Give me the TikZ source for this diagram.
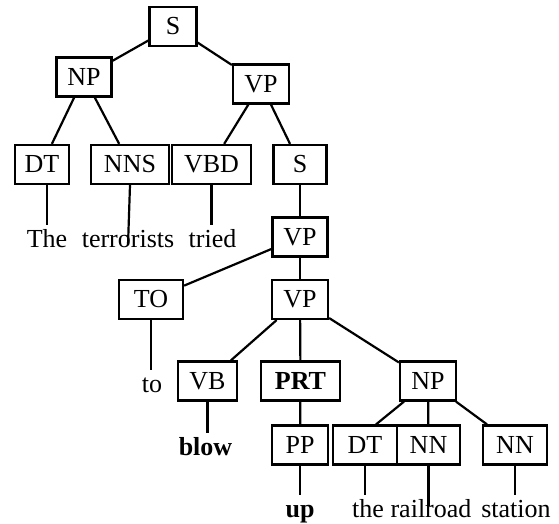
\documentclass[tikz,border=0pt]{standalone}
\usepackage{fontspec}
\setmainfont{Liberation Serif}
\begin{document}
\begin{tikzpicture}[x=1pt,y=-1pt,
  cat/.style={draw, line width=2.2pt, minimum height=39pt, inner sep=0pt, font=\fontsize{26}{30}\selectfont},
  word/.style={anchor=base, inner xsep=0pt, inner ysep=4pt, text height=18pt, font=\fontsize{26}{30}\selectfont},
  edge/.style={line width=2.2pt}]
\useasboundingbox (0,0) rectangle (559,524);
% category nodes
\node[cat, minimum width=47pt] (s0) at (173,26.5) {S};
\node[cat, minimum width=55pt] (np1) at (84,77) {NP};
\node[cat, minimum width=56pt] (vp1) at (261,84) {VP};
\node[cat, minimum width=54pt] (dt1) at (42,164.5) {DT};
\node[cat, minimum width=78pt] (nns) at (130,164.5) {NNS};
\node[cat, minimum width=79pt] (vbd) at (211.5,164.5) {VBD};
\node[cat, minimum width=53pt] (s1) at (300,164.5) {S};
\node[cat, minimum width=55pt] (vp2) at (300,237) {VP};
\node[cat, minimum width=64pt] (to) at (151,299.5) {TO};
\node[cat, minimum width=56pt] (vp3) at (300,299.5) {VP};
\node[cat, minimum width=59pt] (vb) at (207.5,381) {VB};
\node[cat, minimum width=79pt] (prt) at (300.5,381) {\textbf{PRT}};
\node[cat, minimum width=56pt] (np2) at (428,381) {NP};
\node[cat, minimum width=56pt] (pp) at (300,445) {PP};
\node[cat, minimum width=64pt] (dt2) at (365,445) {DT};
\node[cat, minimum width=63pt] (nn1) at (428.5,445) {NN};
\node[cat, minimum width=64pt] (nn2) at (515,445) {NN};
% words
\node[word] (w1) at (47,247) {The};
\node[word] (w2) at (128,247) {terrorists};
\node[word] (w3) at (212.5,247) {tried};
\node[word] (w4) at (152,392) {to};
\node[word] (w5) at (205.5,455) {\textbf{blow}};
\node[word] (w6) at (300,517) {\textbf{up}};
\node[word] (w7) at (368,517) {the};
\node[word] (w8) at (431,517) {railroad};
\node[word] (w9) at (516,517) {station};
\coordinate (t2) at (128,245);
\coordinate (t8) at (428.5,506);
% edges
\draw[edge] (s0) -- (np1);
\draw[edge] (s0) -- (vp1);
\draw[edge] (np1) -- (dt1);
\draw[edge] (np1) -- (nns);
\draw[edge] (vp1) -- (vbd);
\draw[edge] (vp1) -- (s1);
\draw[edge] (s1) -- (vp2);
\draw[edge] (vp2) -- (to);
\draw[edge] (vp2) -- (vp3);
\draw[edge] (vp3) -- (vb);
\draw[edge] (vp3) -- (prt);
\draw[edge] (vp3) -- (np2);
\draw[edge] (prt) -- (pp);
\draw[edge] ([xshift=-24pt]np2.south) -- ([xshift=11pt]dt2.north);
\draw[edge] (np2) -- (nn1);
\draw[edge] (np2) -- (nn2);
% lexical links
\draw[edge] (w1.north |- dt1.south) -- (w1.north);
\draw[edge] (nns.south) -- (t2);
\draw[edge] (vbd.south) -- (vbd.south |- w3.north);
\draw[edge] (to.south) -- (to.south |- w4.north);
\draw[edge] (vb.south) -- (vb.south |- w5.north);
\draw[edge] (pp.south) -- (pp.south |- w6.north);
\draw[edge] (dt2.south) -- (dt2.south |- w7.north);
\draw[edge] (nn1.south) -- (t8);
\draw[edge] (nn2.south) -- (nn2.south |- w9.north);
\end{tikzpicture}
\end{document}
